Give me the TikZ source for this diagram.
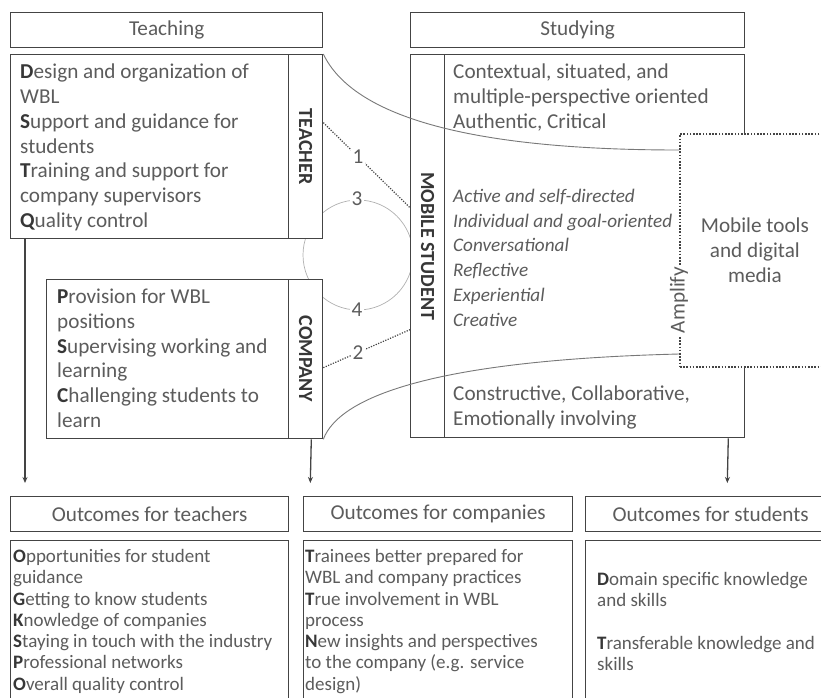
\documentclass[tikz,border=0pt]{standalone}
\usepackage{fontspec}
\usepackage{graphicx}
\usepackage{xcolor}
\setmainfont{Carlito}
\usetikzlibrary{arrows.meta}

\definecolor{edgegray}{RGB}{68,68,68}
\definecolor{txtgray}{RGB}{92,92,92}
\definecolor{inkdark}{RGB}{55,55,55}
\definecolor{ringgray}{RGB}{175,175,175}
\definecolor{curvegray}{RGB}{120,120,120}

\newcommand{\lead}[1]{{\bfseries\color{inkdark}#1}}
\newcommand{\bigtxt}{\fontsize{21.2}{24.7}\selectfont}
\newcommand{\slanttxt}{\fontsize{19.2}{24.7}\selectfont\itshape}
\newcommand{\smalltxt}{\fontsize{19}{21.3}\selectfont}

\begin{document}
\begin{tikzpicture}[x=1pt, y=-1pt,
  box/.style={draw=edgegray, line width=1.3pt, fill=white, inner sep=0pt},
  hdr/.style={box, minimum height=35, font=\bigtxt, text=txtgray},
  body/.style={anchor=north west, inner sep=0pt, align=left, text=txtgray},
  colhead/.style={box, minimum width=34, anchor=north west, font=\fontsize{20}{24}\selectfont\bfseries, text=inkdark},
  link/.style={draw=edgegray, line width=1.2pt, dash pattern=on 1.2pt off 1.4pt},
  ring/.style={draw=ringgray, line width=0.7pt},
  arcline/.style={draw=curvegray, line width=0.9pt},
  flow/.style={draw=edgegray, line width=1.3pt, -{Stealth[length=6pt, width=5pt]}},
  num/.style={fill=white, inner sep=1.5pt, font=\bigtxt, text=txtgray},
  toolbox/.style={fill=white, draw=edgegray, line width=1.8pt, dash pattern=on 1.6pt off 1.6pt,
    inner sep=0pt, align=center, font=\bigtxt, text=txtgray}]
  \useasboundingbox (0,0) rectangle (821,697);
  \clip (0,0) rectangle (821,697);

  % loop behind the boxes (3 and 4)
  \coordinate (loop) at (358,255);
  \draw[ring] (loop) circle[radius=55];

  % Teaching
  \node[hdr, minimum width=312, anchor=north west] (teaching) at (10,12) {Teaching};
  \node[box, minimum width=278, minimum height=184, anchor=north west] (teachbox) at (10,54) {};
  \node[colhead, minimum height=184] (teachcol) at (288,54) {\rotatebox{-90}{TEACHER}};
  \node[body, font=\bigtxt] (teachtxt) at (20,64) {%
    \lead{D}esign and organization of\\WBL\\
    \lead{S}upport and guidance for\\students\\
    \lead{T}raining and support for\\company supervisors\\
    \lead{Q}uality control};

  % Company
  \node[box, minimum width=242, minimum height=159, anchor=north west] (compbox) at (46,279) {};
  \node[colhead, minimum height=159] (compcol) at (288,279) {\rotatebox{-90}{COMPANY}};
  \node[body, font=\bigtxt] (comptxt) at (57,289) {%
    \lead{P}rovision for WBL\\positions\\
    \lead{S}upervising working and\\learning\\
    \lead{C}hallenging students to\\learn};

  % Studying
  \node[hdr, minimum width=334, anchor=north west] (studying) at (410,12) {Studying};
  \node[box, minimum width=300, minimum height=383, anchor=north west] (studbox) at (444,54) {};
  \node[colhead, minimum height=383] (studcol) at (410,54) {\rotatebox{-90}{MOBILE STUDENT}};
  \node[body, font=\bigtxt] (ctxtxt) at (453,64) {%
    Contextual, situated, and\\multiple-perspective oriented\\Authentic, Critical};
  \node[body, font=\slanttxt] (modetxt) at (453,189) {%
    Active and self-directed\\Individual and goal-oriented\\Conversational\\
    Reflective\\Experiential\\Creative};
  \node[body, font=\bigtxt] (cotxt) at (453,386) {%
    Constructive, Collaborative,\\Emotionally involving};

  % links between the roles
  \draw[link] ([yshift=24]teachcol.east) -- node[num, pos=0.4] (n1) {1} ([yshift=38.5]studcol.west);
  \draw[link] ([yshift=-8.5]compcol.east) -- node[num, pos=0.4] (n2) {2} ([yshift=-83.5]studcol.west);
  \node[num] (n3) at (357,199) {3};
  \node[num] (n4) at (357,310) {4};

  % Mobile tools
  \draw[arcline] (teachcol.north east) .. controls (350,110) and (450,150) .. (679,150);
  \draw[arcline] (compcol.south east) .. controls (340,395) and (440,360) .. (679,354);
  \node[toolbox, minimum width=150, minimum height=233, anchor=north west] (tools) at (679,133)
    {Mobile tools\\and digital\\media};
  \node[num, rotate=90] (amp) at (679,300) {Amplify};

  % Outcomes
  \node[hdr, minimum width=278, anchor=north west] (tout) at (10,496) {Outcomes for teachers};
  \node[hdr, minimum width=269, anchor=north west] (cout) at (303,496) {Outcomes for companies};
  \node[hdr, minimum width=250, anchor=north west] (sout) at (585,496) {Outcomes for students};
  \node[box, minimum width=278, minimum height=190, anchor=north west] (tres) at (10,540) {};
  \node[box, minimum width=269, minimum height=190, anchor=north west] (cres) at (303,540) {};
  \node[box, minimum width=250, minimum height=190, anchor=north west] (sres) at (585,540) {};
  \node[body, font=\smalltxt] (ttxt) at (13,549) {%
    \lead{O}pportunities for student\\guidance\\
    \lead{G}etting to know students\\
    \lead{K}nowledge of companies\\
    \lead{S}taying in touch with the industry\\
    \lead{P}rofessional networks\\
    \lead{O}verall quality control};
  \node[body, font=\smalltxt] (ctxt) at (305,549) {%
    \lead{T}rainees better prepared for\\WBL and company practices\\
    \lead{T}rue involvement in WBL\\process\\
    \lead{N}ew insights and perspectives\\to the company (e.g. service\\design)};
  \node[body, font=\smalltxt] (stxt) at (597,572) {%
    \lead{D}omain specific knowledge\\and skills\\[21.3pt]
    \lead{T}ransferable knowledge and\\skills};

  % arrows down to outcomes
  \draw[flow, shorten >=13pt] ([xshift=15]teachbox.south west) -- ([xshift=15]tout.north west);
  \draw[flow, shorten >=13pt] ([xshift=22]compbox.south east) -- ([xshift=7]cout.north west);
  \draw[flow, shorten >=13pt] ([xshift=-17]studbox.south east) -- ([xshift=142]sout.north west);
\end{tikzpicture}
\end{document}
